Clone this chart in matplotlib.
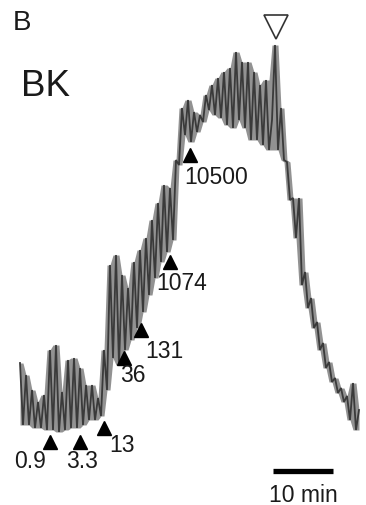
import numpy as np
import matplotlib
matplotlib.use("Agg")
import matplotlib.pyplot as plt

plt.rcParams['font.family'] = ['Liberation Sans', 'DejaVu Sans']

# Recorded response trace (arbitrary units), sampled every 0.5 min
SAMPLE_INTERVAL_MIN = 0.5
response = [
    87, 25, 75, 25, 60, 22, 48, 22, 55, 20,
    100, 20, 105, 18, 58, 20, 90, 22, 92, 22,
    82, 25, 65, 30, 65, 30, 52, 34, 100, 60,
    185, 92, 195, 85, 175, 100, 162, 110, 188, 122,
    200, 138, 212, 155, 230, 172, 247, 188, 265, 198,
    262, 210, 290, 285, 342, 315, 350, 308, 338, 318,
    335, 328, 355, 340, 365, 335, 372, 332, 378, 325,
    382, 322, 398, 330, 388, 322, 388, 310, 378, 310,
    365, 305, 370, 300, 330, 405, 300, 342, 290, 288,
    250, 252, 212, 252, 165, 178, 142, 152, 122, 128,
    100, 107, 82, 88, 68, 72, 57, 62, 48, 54,
    30, 67, 20, 40,
]

# Cumulative doses applied (filled arrowheads)
dose_labels = ["0.9", "3.3", "13", "36", "131", "1074", "10500"]
dose_times = [5.0, 10.0, 14.0, 17.3, 20.2, 25.0, 28.3]
dose_marker_level = [8, 8, 22, 92, 120, 188, 295]
# label offsets from each arrowhead, in pixels (dx, dy)
dose_label_offsets = [(-20, -19), (2, -19), (18, -18), (9, -17),
                      (23, -22), (12, -21), (26, -22)]

# Second stimulus (open arrowhead)
open_marker_time = 42.6
open_marker_level = 423

# Time scale bar
SCALE_MIN = 10
scale_start = 42.2
scale_level = -21

fig = plt.figure(figsize=(3.66, 5.05), dpi=100)
ax = fig.add_axes([0, 0, 1, 1])
ax.set_xlim(-20 / 6, 346 / 6)
ax.set_ylim(-55, 450)
ax.axis('off')

r = np.asarray(response, dtype=float)
t = np.arange(len(r)) * SAMPLE_INTERVAL_MIN

# band spanned by the chart-recorder pen swings
padded = np.concatenate(([r[0]], r, [r[-1]]))
stack = np.vstack([padded[:-2], padded[1:-1], padded[2:]])
upper = stack.max(axis=0)
lower = stack.min(axis=0)
ax.fill_between(t, lower, upper, color='#6e6e6e', alpha=0.75, lw=0)
ax.plot(t, r, color='#3a3a3a', lw=1.3, solid_joinstyle='miter')

ink = '#1a1a1a'
ax.plot(dose_times, dose_marker_level, linestyle='none', marker='^',
        markersize=10.5, color='black')
for lab, tx, lv, (dx, dy) in zip(dose_labels, dose_times,
                                 dose_marker_level, dose_label_offsets):
    ax.annotate(lab, (tx, lv), xytext=(dx, dy), textcoords='offset pixels',
                ha='center', va='center', fontsize=16.5, color=ink)

ax.plot([open_marker_time], [open_marker_level], marker='v',
        markersize=17, markerfacecolor='white', markeredgecolor='#333333',
        markeredgewidth=1.2, linestyle='none')

ax.plot([scale_start, scale_start + SCALE_MIN], [scale_level, scale_level],
        color='black', lw=3.8, solid_capstyle='butt')
ax.text(scale_start + SCALE_MIN / 2, scale_level - 24, f"{SCALE_MIN} min",
        ha='center', va='center', fontsize=16.5, color=ink)

fig.text(22 / 366, 1 - 23 / 505, "B", ha='center', va='center',
         fontsize=20, color=ink)
fig.text(46 / 366, 1 - 86 / 505, "BK", ha='center', va='center',
         fontsize=26.5, color=ink)

fig.savefig("out.png", dpi=100)
